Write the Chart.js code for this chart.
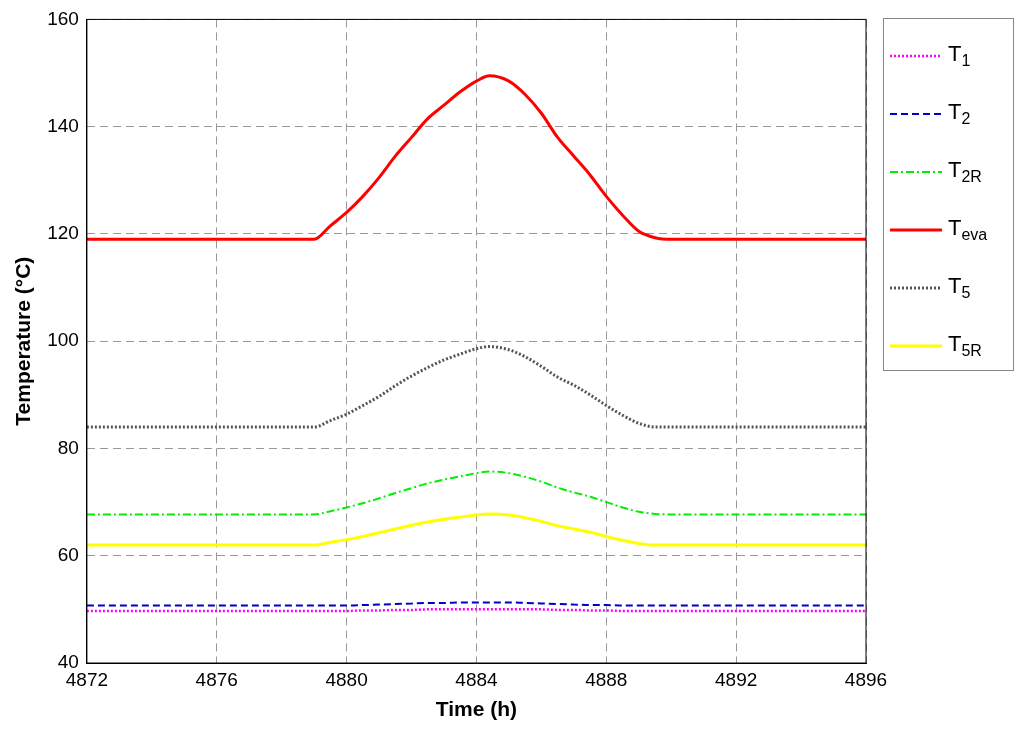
<!DOCTYPE html>
<html><head><meta charset="utf-8">
<script src="https://cdn.jsdelivr.net/npm/chart.js@4/dist/chart.umd.min.js"></script>
<style>
body{margin:0;background:#fff;font-family:Arial,"Liberation Sans",sans-serif}
#wrap{position:relative;width:1024px;height:731px}
#legend{position:absolute;left:883px;top:18px;width:131px;height:353px;border:1px solid #888;box-sizing:border-box;background:#fff}
.item{position:absolute;left:6px;font-size:22px;display:flex;align-items:center}
.item canvas{margin-right:6px}
sub{font-size:16px}
</style></head><body>
<div id="wrap"><canvas id="c" width="1024" height="731"></canvas><div id="legend"></div></div>
<script>
// time (h)
const times = [4872, 4879, 4879.5, 4880, 4880.5, 4881, 4881.5, 4882, 4882.5, 4883, 4883.5, 4884, 4884.4, 4885, 4885.5, 4886, 4886.5, 4887, 4887.5, 4888, 4888.5, 4889, 4889.5, 4890, 4896];
// temperatures (°C)
const tEva = [119, 119, 121.5, 124, 127, 130.5, 134.5, 138, 141.5, 144, 146.5, 148.5, 149.5, 148.5, 146, 142.5, 138, 134.5, 131, 127, 123.5, 120.5, 119.3, 119, 119];
const t5   = [84, 84, 85.2, 86.4, 88, 89.7, 91.7, 93.5, 95.1, 96.5, 97.6, 98.6, 99, 98.4, 97.1, 95.3, 93.3, 91.8, 90, 88, 86.2, 84.7, 84, 84, 84];
const t2R  = [67.7, 67.7, 68.3, 69, 69.8, 70.7, 71.7, 72.6, 73.5, 74.2, 74.8, 75.4, 75.7, 75.4, 74.7, 73.8, 72.7, 71.8, 71, 70, 69, 68.2, 67.8, 67.7, 67.7];
const t5R  = [62, 62, 62.5, 63, 63.6, 64.3, 65, 65.7, 66.3, 66.8, 67.2, 67.6, 67.8, 67.6, 67.1, 66.4, 65.6, 65, 64.4, 63.6, 62.9, 62.3, 62, 62, 62];
const t2   = [50.7, 50.7, 50.7, 50.7, 50.8, 50.9, 51, 51.1, 51.2, 51.2, 51.3, 51.3, 51.3, 51.3, 51.2, 51.1, 51, 50.9, 50.8, 50.8, 50.7, 50.7, 50.7, 50.7, 50.7];
const t1   = [49.7, 49.7, 49.7, 49.7, 49.8, 49.8, 49.9, 49.9, 50, 50, 50, 50, 50, 50, 50, 50, 49.9, 49.9, 49.8, 49.8, 49.7, 49.7, 49.7, 49.7, 49.7];
const xTicks = [4872, 4876, 4880, 4884, 4888, 4892, 4896];

const series = [
  {name:'T', sub:'1', v:t1, color:'#ff00ff', dash:[2,2], w:2.5},
  {name:'T', sub:'2', v:t2, color:'#0000cc', dash:[7,4], w:2},
  {name:'T', sub:'2R', v:t2R, color:'#00ee00', dash:[8,3,2,3], w:2},
  {name:'T', sub:'eva', v:tEva, color:'#ff0000', dash:[], w:3},
  {name:'T', sub:'5', v:t5, color:'#555555', dash:[2,2], w:3},
  {name:'T', sub:'5R', v:t5R, color:'#ffff00', dash:[], w:3}
];

const grid = {color:'#999', drawTicks:false};
const border = {color:'#000', dash:[8,5]};
new Chart(document.getElementById('c'), {
  type:'line',
  data:{datasets: series.map(s => ({
    label:s.name+s.sub, data: times.map((t,i)=>({x:t, y:s.v[i]})),
    borderColor:s.color, borderDash:s.dash, borderWidth:s.w, pointRadius:0, cubicInterpolationMode:'monotone', fill:false
  }))},
  options:{
    responsive:false, animation:false,
    layout:{padding:{left:10,right:158,top:8,bottom:8}},
    plugins:{legend:{display:false}, tooltip:{enabled:false}},
    scales:{
      x:{type:'linear', min:4872, max:4896,
        afterBuildTicks: a => { a.ticks = xTicks.map(v=>({value:v})); },
        grid, border,
        ticks:{color:'#000', font:{size:19, family:'Arial'}, padding:6, callback:v=>String(v)},
        title:{display:true, text:'Time (h)', color:'#000', font:{size:21, weight:'bold', family:'Arial'}, padding:0}},
      y:{min:40, max:160,
        grid, border,
        ticks:{stepSize:20, color:'#000', font:{size:19, family:'Arial'}, padding:8},
        title:{display:true, text:'Temperature (°C)', color:'#000', font:{size:21, weight:'bold', family:'Arial'}, padding:2}}
    }
  },
  plugins:[{id:'frame', afterDraw(ch){const a=ch.chartArea,c=ch.ctx;c.save();c.strokeStyle='#000';c.lineWidth=1;c.setLineDash([]);c.strokeRect(a.left,a.top,a.right-a.left,a.bottom-a.top);c.restore();}}]
});

// legend with subscripts
const lg = document.getElementById('legend');
series.forEach((s,i) => {
  const d = document.createElement('div'); d.className='item'; d.style.top=(22+i*58)+'px';
  const cv = document.createElement('canvas'); cv.width=52; cv.height=10;
  const x = cv.getContext('2d'); x.strokeStyle=s.color; x.lineWidth=s.w; x.setLineDash(s.dash);
  x.beginPath(); x.moveTo(0,5); x.lineTo(52,5); x.stroke();
  d.appendChild(cv);
  const sp = document.createElement('span'); sp.innerHTML = s.name+'<sub>'+s.sub+'</sub>';
  d.appendChild(sp); lg.appendChild(d);
});
</script></body></html>
